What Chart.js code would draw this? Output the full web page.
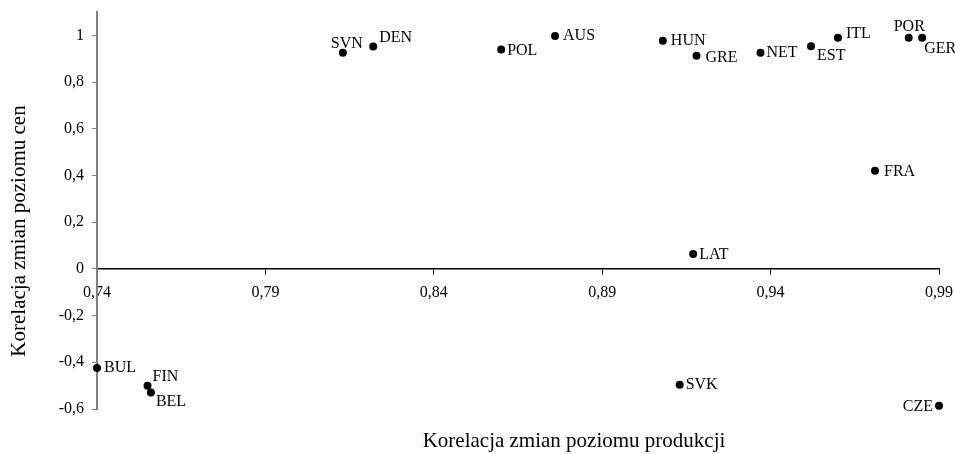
<!DOCTYPE html>
<html>
<head>
<meta charset="utf-8">
<script src="https://cdn.jsdelivr.net/npm/chart.js@4/dist/chart.umd.min.js"></script>
<style>
  html, body { margin: 0; padding: 0; background: #fff; }
  #wrap { width: 955px; height: 454px; }
</style>
</head>
<body>
<div id="wrap"><canvas id="chart"></canvas></div>
<script>
const countries = ["SVN", "DEN", "POL", "AUS", "HUN", "GRE", "NET", "EST", "ITL", "POR", "GER", "FRA", "LAT", "SVK", "CZE", "BUL", "FIN", "BEL"];
const productionCorr = [0.813, 0.822, 0.860, 0.876, 0.908, 0.918, 0.937, 0.952, 0.960, 0.981, 0.985, 0.971, 0.917, 0.913, 0.990, 0.740, 0.755, 0.756];
const priceCorr = [0.925, 0.952, 0.939, 0.997, 0.977, 0.913, 0.925, 0.953, 0.990, 0.990, 0.990, 0.420, 0.064, -0.496, -0.586, -0.424, -0.500, -0.529];
const xTicks = [0.74, 0.79, 0.84, 0.89, 0.94, 0.99];
const yTicks = [-0.6, -0.4, -0.2, 0, 0.2, 0.4, 0.6, 0.8, 1];
const xTitle = "Korelacja zmian poziomu produkcji";
const yTitle = "Korelacja zmian poziomu cen";

// where each label sits relative to its dot
const labelPlacement = {
  SVN: { dx: -12, dy: -9, align: "left" },
  DEN: { dx: 6, dy: -9, align: "left" },
  POL: { dx: 6, dy: 1, align: "left" },
  AUS: { dx: 8, dy: 0, align: "left" },
  HUN: { dx: 8, dy: 0, align: "left" },
  GRE: { dx: 9, dy: 2, align: "left" },
  NET: { dx: 6, dy: 0, align: "left" },
  EST: { dx: 6, dy: 9, align: "left" },
  ITL: { dx: 8, dy: -4, align: "left" },
  POR: { dx: -15, dy: -11, align: "left" },
  GER: { dx: 2, dy: 11, align: "left" },
  FRA: { dx: 9, dy: 1, align: "left" },
  LAT: { dx: 6, dy: 1, align: "left" },
  SVK: { dx: 6, dy: 0, align: "left" },
  CZE: { dx: -6, dy: 1, align: "right" },
  BUL: { dx: 7, dy: 0, align: "left" },
  FIN: { dx: 5, dy: -9, align: "left" },
  BEL: { dx: 5, dy: 9, align: "left" }
};

const serif = "'Liberation Serif', 'Times New Roman', serif";

const pointLabels = {
  id: "pointLabels",
  afterDatasetsDraw(chart) {
    const ctx = chart.ctx;
    const meta = chart.getDatasetMeta(0);
    ctx.save();
    ctx.font = "16px " + serif;
    ctx.fillStyle = "#000";
    ctx.textBaseline = "middle";
    meta.data.forEach((pt, i) => {
      const name = countries[i];
      const p = labelPlacement[name];
      ctx.textAlign = p.align;
      ctx.fillText(name, pt.x + p.dx, pt.y + p.dy);
    });
    ctx.restore();
  }
};

// axis titles sit off-centre in the original, so draw them by hand
const axisTitles = {
  id: "axisTitles",
  afterDraw(chart) {
    const ctx = chart.ctx;
    ctx.save();
    ctx.font = "21px " + serif;
    ctx.fillStyle = "#000";
    ctx.textAlign = "center";
    ctx.textBaseline = "alphabetic";
    ctx.fillText(xTitle, 574, 447);
    ctx.translate(25, 231);
    ctx.rotate(-Math.PI / 2);
    ctx.fillText(yTitle, 0, 0);
    ctx.restore();
  }
};

function commaLabel(value, digits) {
  const rounded = Math.round(value * 100) / 100;
  const text = digits ? rounded.toFixed(digits) : String(rounded);
  return text.replace(".", ",");
}

new Chart(document.getElementById("chart"), {
  type: "scatter",
  data: {
    datasets: [{
      data: countries.map((c, i) => ({ x: productionCorr[i], y: priceCorr[i] })),
      pointRadius: 4,
      pointHoverRadius: 4,
      backgroundColor: "#000",
      borderColor: "#000",
      borderWidth: 0,
      clip: false
    }]
  },
  options: {
    responsive: true,
    maintainAspectRatio: false,
    animation: false,
    layout: { padding: { top: 12, right: 16, left: 0, bottom: 45 } },
    plugins: {
      legend: { display: false },
      tooltip: { enabled: false }
    },
    scales: {
      x: {
        type: "linear",
        position: { y: 0 },
        min: 0.74,
        max: 0.99,
        afterBuildTicks(scale) {
          scale.ticks = xTicks.map((v) => ({ value: v }));
        },
        afterFit(scale) {
          scale.paddingLeft = 0;
          scale.paddingRight = 0;
        },
        ticks: {
          color: "#000",
          font: { family: serif, size: 16 },
          padding: 9,
          callback: (v) => commaLabel(v, 2)
        },
        grid: { drawOnChartArea: false, drawTicks: true, tickLength: 5, color: "#000" },
        border: { color: "#000", width: 1.5 }
      },
      y: {
        type: "linear",
        min: -0.6,
        max: 1.1,
        afterBuildTicks(scale) {
          scale.ticks = yTicks.map((v) => ({ value: v }));
        },
        afterFit(scale) {
          scale.width = 97;
          scale.paddingTop = 0;
          scale.paddingBottom = 0;
        },
        ticks: {
          color: "#000",
          font: { family: serif, size: 16 },
          padding: 8,
          callback: (v) => commaLabel(v, 0)
        },
        grid: { drawOnChartArea: false, drawTicks: true, tickLength: 5, color: "#808080" },
        border: { color: "#808080", width: 2 }
      }
    }
  },
  plugins: [pointLabels, axisTitles]
});
</script>
</body>
</html>
